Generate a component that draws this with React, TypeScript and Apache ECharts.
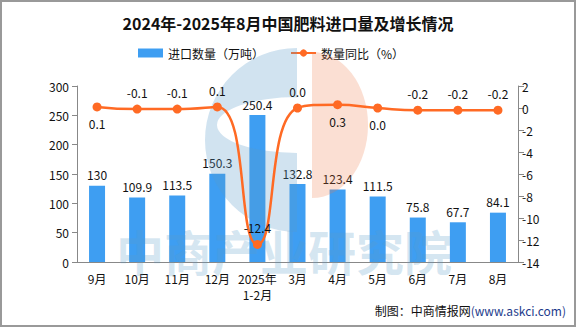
import React, { useEffect, useRef } from "react";
import * as echarts from "echarts";

const categories = ["9月", "10月", "11月", "12月", "2025年\n1-2月", "3月", "4月", "5月", "6月", "7月", "8月"];
const importVolume = [130, 109.9, 113.5, 150.3, 250.4, 132.8, 123.4, 111.5, 75.8, 67.7, 84.1];
const yoyChange = [0.1, -0.1, -0.1, 0.1, -12.4, 0.0, 0.3, 0.0, -0.2, -0.2, -0.2];
const yoyLabelSide = ["bottom", "top", "top", "top", "top", "top", "bottom", "bottom", "top", "top", "top"];
const leftAxisRange = [0, 300, 50];
const rightAxisRange = [-14, 2, 2];

const FONT = "'Noto Sans CJK SC', 'Noto Sans', sans-serif";

let shapesRegistered = false;
function registerShapes() {
  if (shapesRegistered) return;
  shapesRegistered = true;
  const blue =
    "M 297 48 A 92 92 0 0 0 297 232 Z M 297 153 A 80 28 0 0 1 297 97 Z";
  echarts.graphic.registerShape("logoBlue", echarts.graphic.extendPath(blue, {}));
  const orange = "M 312 52 A 56 73 0 0 1 312 198 Z";
  echarts.graphic.registerShape("logoOrange", echarts.graphic.extendPath(orange, {}));
}

export default function App() {
  const ref = useRef<HTMLDivElement>(null);
  useEffect(() => {
    if (!ref.current) return;
    registerShapes();
    const chart = echarts.init(ref.current, undefined, { renderer: "svg" });
    chart.setOption({
      animation: false,
      backgroundColor: "#fff",
      title: {
        text: "2024年-2025年8月中国肥料进口量及增长情况",
        left: "center",
        top: 10,
        textStyle: { fontFamily: FONT, fontSize: 16, fontWeight: "bold", color: "#111" },
      },
      legend: {
        left: 133,
        top: 42,
        itemWidth: 25,
        itemHeight: 9,
        itemGap: 26,
        textStyle: { fontFamily: FONT, fontSize: 12, color: "#111" },
        data: [
          { name: "进口数量（万吨）", icon: "rect" },
          { name: "数量同比（%）" },
        ],
      },
      grid: { left: 77, right: 58, top: 86, bottom: 65 },
      xAxis: {
        type: "category",
        data: categories,
        axisLine: { lineStyle: { color: "#888" } },
        axisTick: { lineStyle: { color: "#888" }, length: 6 },
        axisLabel: { fontFamily: FONT, fontSize: 12, color: "#111", margin: 8, interval: 0, lineHeight: 16 },
      },
      yAxis: [
        {
          type: "value",
          min: leftAxisRange[0],
          max: leftAxisRange[1],
          interval: leftAxisRange[2],
          splitLine: { show: false },
          axisLine: { show: true, lineStyle: { color: "#888" } },
          axisTick: { show: true, length: 5, lineStyle: { color: "#888" } },
          axisLabel: { fontFamily: FONT, fontSize: 12, color: "#111", margin: 8 },
        },
        {
          type: "value",
          min: rightAxisRange[0],
          max: rightAxisRange[1],
          interval: rightAxisRange[2],
          splitLine: { show: false },
          axisLine: { show: true, lineStyle: { color: "#888" } },
          axisTick: { show: true, length: 6, lineStyle: { color: "#888" } },
          axisLabel: { fontFamily: FONT, fontSize: 12, color: "#111", margin: 4 },
        },
      ],
      series: [
        {
          name: "进口数量（万吨）",
          type: "bar",
          data: importVolume,
          barWidth: 16,
          itemStyle: { color: "#3E9EF2" },
          z: 2,
          label: {
            show: true,
            position: "top",
            fontFamily: FONT,
            fontSize: 12,
            color: "#111",
          },
        },
        {
          name: "数量同比（%）",
          type: "line",
          yAxisIndex: 1,
          smooth: true,
          z: 10,
          symbol: "circle",
          symbolSize: 9,
          lineStyle: { color: "#FF6A24", width: 2.5 },
          itemStyle: { color: "#FF6A24" },
          data: yoyChange.map((v, i) => ({
            value: v,
            label: { position: yoyLabelSide[i] },
          })),
          label: {
            show: true,
            fontFamily: FONT,
            fontSize: 12,
            color: "#111",
            distance: 6,
            formatter: (p: any) => Number(p.value).toFixed(1),
          },
        },
      ],
      graphic: [
        {
          type: "logoBlue",
          x: 0,
          y: 0,
          z: 5,
          silent: true,
          style: { fill: "rgba(90,155,200,0.28)" },
        },
        {
          type: "logoOrange",
          x: 0,
          y: 0,
          z: 5,
          silent: true,
          style: { fill: "rgba(240,120,70,0.24)" },
        },
        {
          type: "text",
          left: 116,
          top: 226,
          z: 5,
          silent: true,
          style: {
            text: "中商产业研究院",
            fontFamily: FONT,
            fontSize: 48,
            fontWeight: "bold",
            fill: "rgba(90,155,200,0.25)",
          },
        },
        {
          type: "text",
          right: 10,
          top: 304,
          z: 20,
          style: {
            text: "{a|制图：中商情报网}{b|(www.askci.com)}",
            rich: {
              a: { fontFamily: FONT, fontSize: 12, fill: "#111" },
              b: { fontFamily: FONT, fontSize: 12, fill: "#1E3C8C" },
            },
          },
        },
        {
          type: "rect",
          z: 30,
          silent: true,
          shape: { x: 1, y: 1, width: 574, height: 325 },
          style: { fill: "none", stroke: "#999", lineWidth: 2 },
        },
      ],
    });
    return () => chart.dispose();
  }, []);
  return (
    <div
      ref={ref}
      style={{ position: "fixed", left: 0, top: 0, width: 576, height: 327 }}
    />
  );
}
